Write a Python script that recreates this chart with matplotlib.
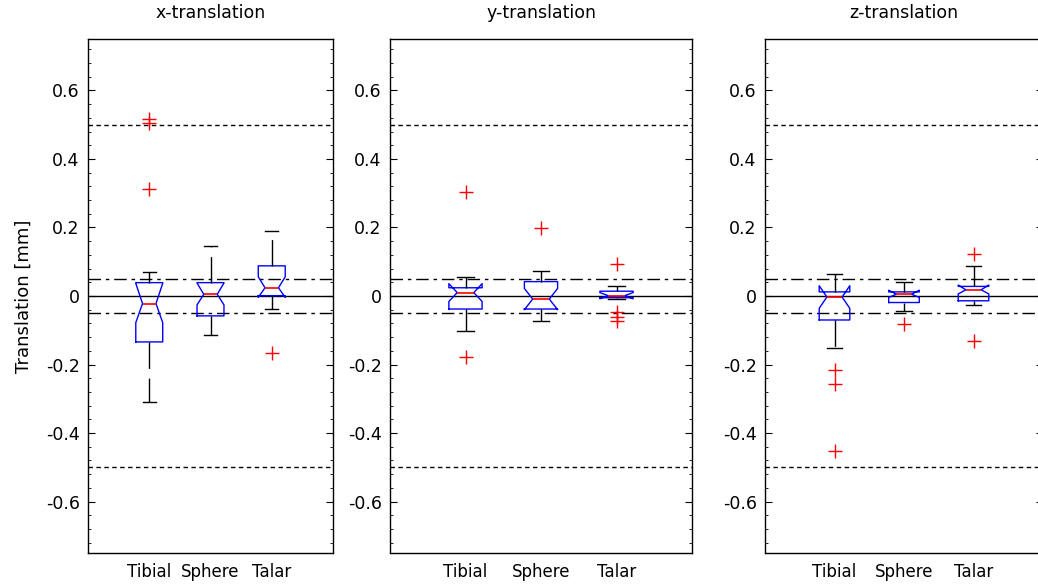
import numpy as np
import matplotlib
matplotlib.use("Agg")
import matplotlib.pyplot as plt
from matplotlib.ticker import MultipleLocator, AutoMinorLocator, FuncFormatter

plt.rcParams['font.family'] = ['DejaVu Sans']
plt.rcParams['axes.unicode_minus'] = False

# boxplot summaries, one list per panel (Tibial, Sphere, Talar)
titles = ['x-translation', 'y-translation', 'z-translation']
groups = ['Tibial', 'Sphere', 'Talar']

q1 = [[-0.134, -0.058, 0.001],
      [-0.038, -0.038, -0.005],
      [-0.070, -0.019, -0.014]]
med = [[-0.022, 0.005, 0.024],
       [0.010, -0.009, 0.001],
       [-0.003, 0.005, 0.018]]
q3 = [[0.039, 0.039, 0.088],
      [0.024, 0.042, 0.014],
      [0.012, 0.012, 0.028]]
cilo = [[-0.078, -0.026, -0.004],
        [-0.016, -0.040, -0.008],
        [-0.036, -0.004, 0.006]]
cihi = [[0.037, 0.038, 0.056],
        [0.036, 0.022, 0.010],
        [0.030, 0.017, 0.032]]
whislo = [[-0.308, -0.114, -0.038],
          [-0.101, -0.073, -0.008],
          [-0.152, -0.045, -0.026]]
whishi = [[0.069, 0.147, 0.189],
          [0.055, 0.073, 0.029],
          [0.065, 0.042, 0.087]]
fliers = [[[0.516, 0.504, 0.313], [], [-0.166]],
          [[0.304, -0.179], [0.199], [0.094, -0.048, -0.060, -0.072]],
          [[-0.215, -0.258, -0.451], [-0.081], [0.124, -0.130]]]

zero_level = 0.0
inner_tol = 0.05
outer_tol = 0.5

W, H = 1038, 585
fig = plt.figure(figsize=(W / 100, H / 100), dpi=100)

# panel edges in pixels (third panel runs slightly past the right edge)
lefts = [88, 390, 765]
rights = [333, 692, 1043]
top, bottom = 39, 553

for k in range(3):
    ax = fig.add_axes([lefts[k] / W, 1 - bottom / H,
                       (rights[k] - lefts[k]) / W, (bottom - top) / H])

    ax.axhline(zero_level, color='black', lw=1, zorder=1)
    for s in (1, -1):
        ax.axhline(s * inner_tol, color='black', lw=1,
                   linestyle=(0, (9, 3.5, 2.5, 3.5)), zorder=1)
        ax.axhline(s * outer_tol, color='black', lw=1,
                   linestyle=(0, (3.2, 2.5)), zorder=1)

    stats = []
    for i, g in enumerate(groups):
        stats.append(dict(label=g, q1=q1[k][i], med=med[k][i], q3=q3[k][i],
                          cilo=cilo[k][i], cihi=cihi[k][i],
                          whislo=whislo[k][i], whishi=whishi[k][i],
                          fliers=np.array(fliers[k][i])))

    ax.bxp(stats, positions=[1, 2, 3], widths=0.44, shownotches=True,
           boxprops=dict(color='blue', lw=1),
           medianprops=dict(color='red', lw=1.2),
           whiskerprops=dict(color='black', lw=1, linestyle=(0, (19, 7))),
           capprops=dict(color='black', lw=1),
           flierprops=dict(marker='+', markeredgecolor='red', markersize=10,
                           markeredgewidth=1, linestyle='none'))

    ax.set_xlim(0, 4)
    ax.set_ylim(-0.75, 0.75)
    ax.set_xticks([1, 2, 3])
    ax.set_xticklabels(groups, fontsize=12)
    ax.tick_params(axis='x', length=0, pad=7)

    ax.yaxis.set_major_locator(MultipleLocator(0.2))
    ax.yaxis.set_minor_locator(AutoMinorLocator(5))
    ax.yaxis.set_major_formatter(FuncFormatter(lambda v, p: '%g' % round(v, 2)))
    ax.tick_params(axis='y', which='both', direction='in', left=True, right=True,
                   labelsize=12.5, pad=6)
    ax.tick_params(axis='y', which='major', length=5)
    ax.tick_params(axis='y', which='minor', length=2.2)

    for sp in ax.spines.values():
        sp.set_linewidth(1)

    ax.set_title(titles[k], fontsize=12.5, pad=15)
    if k == 0:
        ax.set_ylabel('Translation [mm]', fontsize=13, labelpad=9)

fig.savefig('out.png', dpi=100)
